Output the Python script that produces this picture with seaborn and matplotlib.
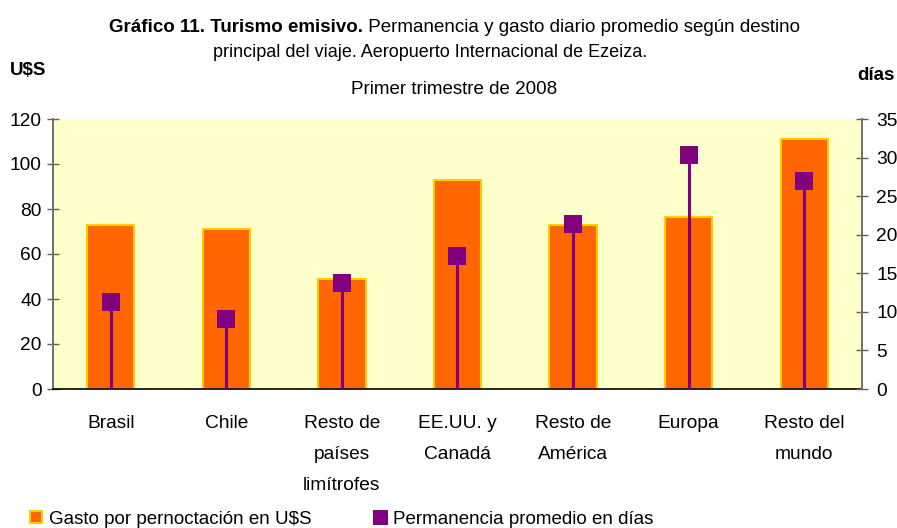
import numpy as np
import matplotlib
matplotlib.use("Agg")
import matplotlib.pyplot as plt
import seaborn as sns
from matplotlib.lines import Line2D

destinos = ["Brasil", "Chile", "Resto de\npaíses\nlimítrofes", "EE.UU. y\nCanadá",
            "Resto de\nAmérica", "Europa", "Resto del\nmundo"]
gasto = [73, 71, 49, 93, 73, 76.5, 111]          # U$S por pernoctación
permanencia = [11.3, 9.1, 13.7, 17.3, 21.4, 30.3, 27.0]  # días

sns.set_theme(style="white")
plt.rcParams["font.family"] = ["Liberation Sans", "DejaVu Sans"]
plt.rcParams["text.color"] = "black"
plt.rcParams["xtick.color"] = "black"
plt.rcParams["ytick.color"] = "black"

naranja = "#FF6600"
dorado = "#FFCC00"
violeta = "#800080"
fs = 13.8

W, H = 897, 528
fig = plt.figure(figsize=(W / 100, H / 100), dpi=100)
ax = fig.add_axes([53 / W, 1 - 389 / H, (862 - 53) / W, (389 - 119) / H])
ax.set_facecolor("#FFFFCC")

sns.barplot(x=destinos, y=gasto, ax=ax, color=naranja, saturation=1,
            edgecolor=dorado, linewidth=1.5, width=0.41, zorder=2)

ax.set_xlim(-0.5, 6.5)
ax.set_ylim(0, 120)
ax.set_yticks(range(0, 121, 20))
ax.set_xticks(np.arange(-0.5, 7, 1), labels=[""] * 8)
ax.set_xticks(np.arange(7), labels=destinos, minor=True)
ax.set_xlabel("")
ax.set_ylabel("")
ax.tick_params(axis="x", which="major", direction="inout", length=9.5, width=1, color="black")
ax.tick_params(axis="x", which="minor", length=0, pad=19, labelsize=fs, labelcolor="black")
for lab in ax.get_xticklabels(minor=True):
    lab.set_linespacing(2.05)
    lab.set_verticalalignment("top")
ax.tick_params(axis="y", direction="inout", length=8.6, width=1, color="#606060",
               labelsize=fs, pad=4, left=True, labelcolor="black")
for s in ["top", "right"]:
    ax.spines[s].set_visible(False)
ax.spines["left"].set_color("#707070")
ax.spines["left"].set_linewidth(1.4)
ax.spines["bottom"].set_color("black")
ax.spines["bottom"].set_linewidth(1.2)

ax2 = ax.twinx()
ax2.vlines(np.arange(7), 0, permanencia, color=violeta, lw=2.2, zorder=3)
sns.scatterplot(x=np.arange(7), y=permanencia, ax=ax2, marker="s", s=185,
                color=violeta, linewidth=0, zorder=4)
ax2.set_ylim(0, 35)
ax2.set_yticks(range(0, 36, 5))
ax2.set_ylabel("")
ax2.tick_params(axis="y", direction="inout", length=8.6, width=1, color="#606060",
                labelsize=fs, pad=6, right=True, labelcolor="black")
for s in ["top", "left", "bottom"]:
    ax2.spines[s].set_visible(False)
ax2.spines["right"].set_color("#707070")
ax2.spines["right"].set_linewidth(1.4)

# titulo: primera linea con parte en negrita
tfs = 13.5
renderer = fig.canvas.get_renderer()
t_bold = fig.text(0, 1 - 32 / H, "Gráfico 11. Turismo emisivo.", fontsize=tfs,
                  fontweight="bold", va="baseline", ha="left")
t_reg = fig.text(0, 1 - 32 / H, " Permanencia y gasto diario promedio según destino",
                 fontsize=tfs, va="baseline", ha="left")
w1 = t_bold.get_window_extent(renderer).width
w2 = t_reg.get_window_extent(renderer).width
x0 = 454 - (w1 + w2) / 2
t_bold.set_x(x0 / W)
t_reg.set_x((x0 + w1) / W)
fig.text(430 / W, 1 - 57 / H, "principal del viaje. Aeropuerto Internacional de Ezeiza.",
         fontsize=13, ha="center", va="baseline")
fig.text(454 / W, 1 - 94 / H, "Primer trimestre de 2008", fontsize=tfs,
         ha="center", va="baseline")

fig.text(10 / W, 1 - 75 / H, "U$S", fontsize=tfs, fontweight="bold", va="baseline")
fig.text(895 / W, 1 - 80 / H, "días", fontsize=tfs, fontweight="bold", va="baseline",
         ha="right")

handles = [
    Line2D([], [], ls="none", marker="s", markersize=8.6, markerfacecolor=naranja,
           markeredgecolor=dorado, markeredgewidth=1.5),
    Line2D([], [], ls="none", marker="s", markersize=10.8, markerfacecolor=violeta,
           markeredgewidth=0),
]
fig.legend(handles, ["Gasto por pernoctación en U$S", "Permanencia promedio en días"],
           loc="center left", bbox_to_anchor=(29.5 / W, 1 - 519 / H), ncol=2,
           frameon=False, fontsize=13.5, handlelength=0.7, handletextpad=0.35,
           columnspacing=3.3, borderpad=0, borderaxespad=0)

fig.savefig("out.png", dpi=100)
